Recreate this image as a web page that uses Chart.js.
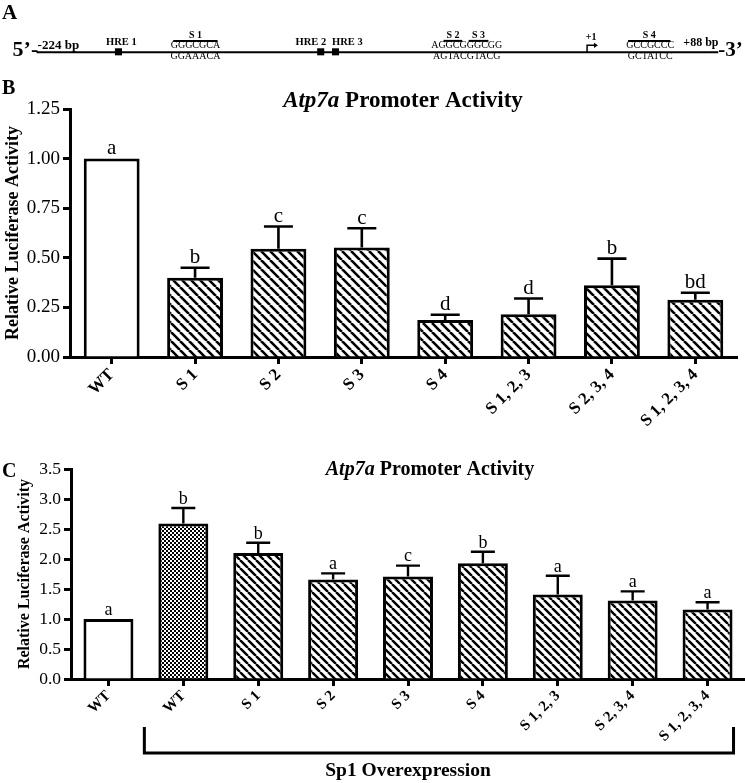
<!DOCTYPE html>
<html>
<head>
<meta charset="utf-8">
<script src="https://cdn.jsdelivr.net/npm/chart.js@4.4.1/dist/chart.umd.min.js"></script>
<style>
  body { margin: 0; background: #fff; }
  #wrap { position: relative; width: 745px; height: 783px; overflow: hidden; }
  canvas { position: absolute; left: 0; }
</style>
</head>
<body>
<div id="wrap">
  <canvas id="panelA" width="745" height="80" style="top:0"></canvas>
  <canvas id="panelB" width="745" height="348" style="top:80px"></canvas>
  <canvas id="panelC" width="745" height="343" style="top:440px"></canvas>
</div>
<script>
const FONT = "'Liberation Serif', 'Times New Roman', Times, serif";

// Panel A: promoter map (schematic positions along the line)
const hreLabels = ['HRE 1', 'HRE 2', 'HRE 3'];
const hrePos = [115, 320, 335];
const hreLabelPos = [118, 310, 347];
const spLabels = ['S 1', 'S 2', 'S 3', 'S 4'];
const spPos = [193, 454, 480, 653];
const spSpan = [45, 19, 20, 43];
const seqWild = ['GGGCGCA', 'AGGCGGGCGG', 'GCCGCCC'];
const seqMut = ['GGAAACA', 'AGTACGTACG', 'GCTATCC'];
const seqPos = [193, 468, 654];
const lineStart = 32, lineEnd = 723, tssPos = 590;

// Panel B: promoter activity
const labelsB = ['WT', 'S 1', 'S 2', 'S 3', 'S 4', 'S 1, 2, 3', 'S 2, 3, 4', 'S 1, 2, 3, 4'];
const meanB = [1.00, 0.40, 0.545, 0.552, 0.187, 0.216, 0.362, 0.288];
const errB = [0, 0.05, 0.113, 0.097, 0.026, 0.079, 0.134, 0.036];
const sigB = ['a', 'b', 'c', 'c', 'd', 'd', 'b', 'bd'];

// Panel C: promoter activity with Sp1 overexpression
const labelsC = ['WT', 'WT', 'S 1', 'S 2', 'S 3', 'S 4', 'S 1, 2, 3', 'S 2, 3, 4', 'S 1, 2, 3, 4'];
const meanC = [1.0, 2.59, 2.10, 1.66, 1.71, 1.93, 1.41, 1.31, 1.16];
const errC = [0, 0.26, 0.17, 0.10, 0.18, 0.19, 0.31, 0.15, 0.12];
const sigC = ['a', 'b', 'b', 'a', 'c', 'b', 'a', 'a', 'a'];

// fill patterns
function hatch(ctx, step, lw) {
  const c = document.createElement('canvas');
  c.width = c.height = step;
  const g = c.getContext('2d');
  g.fillStyle = '#fff';
  g.fillRect(0, 0, step, step);
  g.strokeStyle = '#000';
  g.lineWidth = lw;
  g.beginPath();
  for (const k of [-1, 0, 1]) {
    g.moveTo(k * step, 0);
    g.lineTo(k * step + step, step);
  }
  g.stroke();
  return ctx.createPattern(c, 'repeat');
}
function checker(ctx) {
  const c = document.createElement('canvas');
  c.width = c.height = 4;
  const g = c.getContext('2d');
  g.fillStyle = '#fff';
  g.fillRect(0, 0, 4, 4);
  g.fillStyle = '#000';
  g.fillRect(0, 0, 2, 2);
  g.fillRect(2, 2, 2, 2);
  return ctx.createPattern(c, 'repeat');
}

function txt(ctx, s, x, y, size, weight, align, style) {
  ctx.font = (style || 'normal') + ' ' + weight + ' ' + size + 'px ' + FONT;
  ctx.textAlign = align;
  ctx.textBaseline = 'alphabetic';
  ctx.fillText(s, x, y);
}

// ---------- Panel A ----------
const mapPlugin = {
  id: 'promoterMap',
  afterDraw(chart) {
    const ctx = chart.ctx;
    const X = v => chart.scales.x.getPixelForValue(v);
    const Y = v => chart.scales.y.getPixelForValue(v);
    ctx.save();
    ctx.fillStyle = '#000';
    ctx.strokeStyle = '#000';
    txt(ctx, 'A', 2, 19, 21, 'bold', 'left');
    txt(ctx, '5’-', X(lineStart) - 24, Y(58), 22, 'bold', 'left');
    txt(ctx, '-224 bp', X(lineStart) + 1, Y(50), 13, 'bold', 'left');
    txt(ctx, '+88 bp', X(lineEnd) - 35, Y(47), 12, 'bold', 'left');
    txt(ctx, '-3’', X(lineEnd), Y(58.5), 21, 'bold', 'left');
    hreLabels.forEach((l, i) => txt(ctx, l, X(hreLabelPos[i]), Y(46), 10.5, 'bold', 'center'));
    ctx.lineWidth = 2;
    spLabels.forEach((l, i) => {
      txt(ctx, l, X(spPos[i]), Y(38), 10, 'bold', 'center');
      ctx.beginPath();
      ctx.moveTo(X(spPos[i] - spSpan[i] / 2), Y(41));
      ctx.lineTo(X(spPos[i] + spSpan[i] / 2), Y(41));
      ctx.stroke();
    });
    seqWild.forEach((s, i) => txt(ctx, s, X(seqPos[i]), Y(49.5), 10, 'normal', 'center'));
    seqMut.forEach((s, i) => txt(ctx, s, X(seqPos[i]), Y(61.5), 10, 'normal', 'center'));
    // transcription start
    txt(ctx, '+1', X(tssPos + 4), Y(40), 10, 'bold', 'center');
    ctx.lineWidth = 1.5;
    ctx.beginPath();
    ctx.moveTo(X(tssPos), Y(54));
    ctx.lineTo(X(tssPos), Y(46));
    ctx.lineTo(X(tssPos + 8), Y(46));
    ctx.stroke();
    ctx.beginPath();
    ctx.moveTo(X(tssPos + 7), Y(43));
    ctx.lineTo(X(tssPos + 11), Y(46));
    ctx.lineTo(X(tssPos + 7), Y(49));
    ctx.closePath();
    ctx.fill();
    ctx.restore();
  }
};

new Chart(document.getElementById('panelA'), {
  type: 'scatter',
  data: {
    datasets: [
      {
        type: 'line',
        data: [{ x: lineStart, y: 54 }, { x: lineEnd, y: 54 }],
        borderColor: '#000',
        borderWidth: 2,
        pointRadius: 0
      },
      {
        data: hrePos.map(x => ({ x: x, y: 53.5 })),
        pointStyle: 'rect',
        pointRadius: 5,
        backgroundColor: '#000',
        borderColor: '#000',
        borderWidth: 0
      }
    ]
  },
  options: {
    responsive: false,
    animation: false,
    layout: { padding: 0 },
    plugins: { legend: { display: false }, tooltip: { enabled: false } },
    scales: {
      x: { type: 'linear', min: 0, max: 745, display: false },
      y: { type: 'linear', min: 0, max: 80, reverse: true, display: false }
    }
  },
  plugins: [mapPlugin]
});

// ---------- shared bits for B and C ----------
const errorLetters = {
  id: 'errorLetters',
  afterDatasetsDraw(chart, args, opts) {
    const ctx = chart.ctx;
    const ys = chart.scales.y;
    const meta = chart.getDatasetMeta(0);
    const vals = chart.data.datasets[0].data;
    ctx.save();
    ctx.strokeStyle = '#000';
    ctx.fillStyle = '#000';
    ctx.lineWidth = opts.lw;
    meta.data.forEach((bar, i) => {
      const yTop = ys.getPixelForValue(vals[i]);
      const yE = ys.getPixelForValue(vals[i] + opts.err[i]);
      if (opts.err[i] > 0) {
        ctx.beginPath();
        ctx.moveTo(bar.x, yTop);
        ctx.lineTo(bar.x, yE);
        ctx.moveTo(bar.x - opts.cap, yE);
        ctx.lineTo(bar.x + opts.cap, yE);
        ctx.stroke();
      }
      txt(ctx, opts.sig[i], bar.x, yE - opts.lw / 2 - 3, opts.size, 'normal', 'center');
    });
    ctx.restore();
  }
};

const panelText = {
  id: 'panelText',
  afterDraw(chart, args, opts) {
    const ctx = chart.ctx;
    ctx.save();
    ctx.fillStyle = '#000';
    txt(ctx, opts.letter, 2, opts.letterY, 20, 'bold', 'left');
    // title with italic gene name
    const size = opts.titleSize;
    ctx.font = 'italic bold ' + size + 'px ' + FONT;
    const w1 = ctx.measureText('Atp7a').width;
    ctx.font = 'normal bold ' + size + 'px ' + FONT;
    const w2 = ctx.measureText(' Promoter Activity').width;
    const x0 = opts.titleX - (w1 + w2) / 2;
    txt(ctx, 'Atp7a', x0, opts.titleY, size, 'bold', 'left', 'italic');
    txt(ctx, ' Promoter Activity', x0 + w1, opts.titleY, size, 'bold', 'left');
    ctx.restore();
  }
};

function axisX(size, height) {
  return {
    grid: { display: true, drawOnChartArea: false, drawTicks: true, tickLength: 7, tickWidth: 3, tickColor: '#000', offset: false },
    border: { display: true, width: 3, color: '#000' },
    ticks: { color: '#000', font: { family: FONT, size: size, weight: 'bold' }, maxRotation: 45, minRotation: 45, padding: 1, autoSkip: false },
    afterFit: s => { s.height = height; }
  };
}
function axisY(max, step, digits, size, titleSize, titlePad, width) {
  return {
    min: 0,
    max: max,
    grid: { display: true, drawOnChartArea: false, drawTicks: true, tickLength: 7, tickWidth: 3, tickColor: '#000' },
    border: { display: true, width: 3, color: '#000' },
    ticks: { stepSize: step, color: '#000', padding: 3, font: { family: FONT, size: size }, callback: v => v.toFixed(digits) },
    title: { display: true, text: 'Relative Luciferase Activity', color: '#000', font: { family: FONT, size: titleSize, weight: 'bold' }, padding: { top: titlePad, bottom: 0 } },
    afterFit: s => { s.width = width; }
  };
}

// ---------- Panel B ----------
const ctxB = document.getElementById('panelB').getContext('2d');
const hatchB = hatch(ctxB, 9, 2.6);
new Chart(ctxB, {
  type: 'bar',
  data: {
    labels: labelsB,
    datasets: [{
      data: meanB,
      backgroundColor: labelsB.map((l, i) => i === 0 ? '#fff' : hatchB),
      borderColor: '#000',
      borderWidth: 3,
      categoryPercentage: 1,
      barPercentage: 0.67
    }]
  },
  options: {
    responsive: false,
    animation: false,
    layout: { padding: { top: 29, right: 8, left: 0, bottom: 0 } },
    plugins: {
      legend: { display: false },
      tooltip: { enabled: false },
      errorLetters: { err: errB, sig: sigB, cap: 14.5, lw: 2.6, size: 21 },
      panelText: { letter: 'B', letterY: 14, titleX: 403, titleY: 27, titleSize: 23 }
    },
    scales: {
      x: axisX(17, 71),
      y: axisY(1.25, 0.25, 2, 19, 18, 2.5, 70)
    }
  },
  plugins: [errorLetters, panelText]
});

// ---------- Panel C ----------
const bracket = {
  id: 'bracket',
  afterDraw(chart, args, opts) {
    const ctx = chart.ctx;
    const meta = chart.getDatasetMeta(0);
    const first = meta.data[opts.from], last = meta.data[opts.to];
    const xl = first.x - first.width / 2 - 14;
    const xr = last.x + last.width / 2 + 1;
    ctx.save();
    ctx.strokeStyle = '#000';
    ctx.fillStyle = '#000';
    ctx.lineWidth = 3;
    ctx.beginPath();
    ctx.moveTo(xl, opts.top);
    ctx.lineTo(xl, opts.bottom);
    ctx.lineTo(xr, opts.bottom);
    ctx.lineTo(xr, opts.top);
    ctx.stroke();
    txt(ctx, opts.text, opts.textX, opts.textY, 19.5, 'bold', 'center');
    ctx.restore();
  }
};

const ctxC = document.getElementById('panelC').getContext('2d');
const hatchC = hatch(ctxC, 8, 2.4);
const checkC = checker(ctxC);
new Chart(ctxC, {
  type: 'bar',
  data: {
    labels: labelsC,
    datasets: [{
      data: meanC,
      backgroundColor: labelsC.map((l, i) => i === 0 ? '#fff' : (i === 1 ? checkC : hatchC)),
      borderColor: '#000',
      borderWidth: 3,
      categoryPercentage: 1,
      barPercentage: 0.667
    }]
  },
  options: {
    responsive: false,
    animation: false,
    layout: { padding: { top: 29, right: 0, left: 0, bottom: 0 } },
    plugins: {
      legend: { display: false },
      tooltip: { enabled: false },
      errorLetters: { err: errC, sig: sigC, cap: 12, lw: 2.4, size: 18 },
      panelText: { letter: 'C', letterY: 37, titleX: 430, titleY: 35, titleSize: 20 },
      bracket: { from: 1, to: 8, top: 287, bottom: 313, text: 'Sp1 Overexpression', textX: 408, textY: 336 }
    },
    scales: {
      x: axisX(15, 104),
      y: axisY(3.5, 0.5, 1, 17.5, 16, 15, 71)
    }
  },
  plugins: [errorLetters, panelText, bracket]
});
</script>
</body>
</html>
